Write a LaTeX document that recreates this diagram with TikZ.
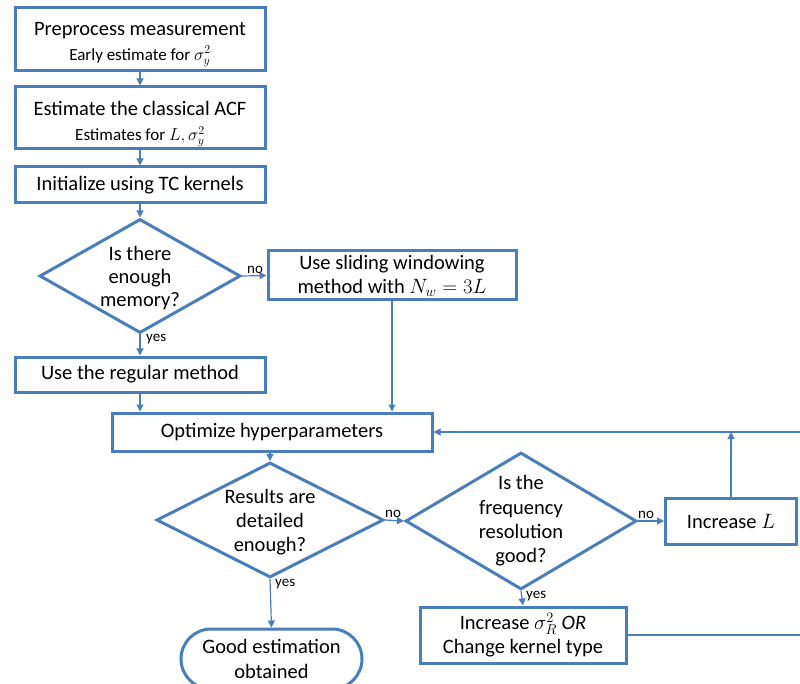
\documentclass[tikz,border=0pt]{standalone}
\usepackage{fontspec}
\setmainfont{Carlito}
\usetikzlibrary{shapes.geometric,shapes.misc,arrows.meta}
\definecolor{fcblue}{RGB}{74,126,187}
\begin{document}
\begin{tikzpicture}[x=1pt,y=-1pt,
  box/.style={draw=fcblue,line width=3pt,fill=white,inner sep=0pt,align=center,font=\fontsize{20.5}{24}\selectfont},
  dia/.style={draw=fcblue,line width=3pt,fill=white,shape=diamond,inner sep=0pt},
  txt/.style={inner sep=0pt,align=center,font=\fontsize{20.5}{24}\selectfont},
  term/.style={draw=fcblue,line width=3pt,fill=white,shape=rounded rectangle,inner sep=0pt,align=center,font=\fontsize{20.5}{25}\selectfont},
  conn/.style={draw=fcblue,line width=1.2pt,-{Triangle[length=7pt,width=7pt]}},
  line/.style={draw=fcblue,line width=1.2pt},
  lab/.style={font=\fontsize{15}{17}\selectfont,inner sep=1pt},
  subf/.style={font=\fontsize{17}{20}\selectfont}
]
\useasboundingbox (0,0) rectangle (800,684);
\fill[white] (0,0) rectangle (800,684);

\node[box,minimum width=250pt,minimum height=63pt] (b1) at (140,39) {};
\node[txt] (b1t) at (140,44.5) {Preprocess measurement\\[1pt]{\fontsize{17}{20}\selectfont Early estimate for $\sigma_y^2$}};
\node[box,minimum width=250pt,minimum height=62pt] (b2) at (140,118) {};
\node[txt] (b2t) at (140,124) {Estimate the classical ACF\\[1pt]{\fontsize{17}{20}\selectfont Estimates for $L,\sigma_y^2$}};
\node[box,minimum width=250pt,minimum height=36pt] (b3) at (140,185) {Initialize using TC kernels};

\node[dia,minimum width=201pt,minimum height=114pt] (d1) at (140,276) {};
\node[txt,font=\fontsize{20.5}{23}\selectfont] (d1t) at (140,278) {Is there\\enough\\memory?};
\node[box,minimum width=248pt,minimum height=49pt] (slide) at (392,275.5)
  {Use sliding windowing\\method with $N_w=3L$};
\node[box,minimum width=250pt,minimum height=35pt] (reg) at (140,374.5) {Use the regular method};

\node[box,minimum width=320pt,minimum height=38pt] (opt) at (272,432) {Optimize hyperparameters};

\node[dia,minimum width=227pt,minimum height=115pt] (d2) at (270,520) {};
\node[txt] (d2t) at (270,522) {Results are\\detailed\\enough?};
\node[dia,minimum width=231pt,minimum height=137pt] (d3) at (521,521) {};
\node[txt,font=\fontsize{20.5}{24.3}\selectfont] (d3t) at (521,521) {Is the\\frequency\\resolution\\good?};
\node[box,minimum width=131pt,minimum height=46pt] (incL) at (731,521) {Increase $L$};
\node[box,minimum width=206pt,minimum height=56pt] (incS) at (523,635)
  {Increase $\sigma_R^2$ \textit{OR}\\Change kernel type};
\node[term,minimum width=181pt,minimum height=60pt] (good) at (271.5,659) {Good estimation\\obtained};

\coordinate (edgeA) at (800,432);
\coordinate (edgeB) at (800,635);

\draw[conn] (b1) -- (b2);
\draw[conn] (b2) -- (b3);
\draw[conn] (b3) -- (d1.north);
\draw[conn] (d1.east) -- (slide.west);
\node[lab,anchor=south west] (no1) at ([xshift=4pt,yshift=1pt]d1.east) {no};
\draw[conn] (d1.south) -- (reg.north);
\node[lab,anchor=north west] (yes1) at ([xshift=5pt,yshift=1pt]d1.south) {yes};
\draw[conn] (reg.south) -- (reg.south |- opt.north);
\draw[conn] (slide.south) -- (slide.south |- opt.north);
\draw[conn] (opt.south -| d2.north) -- (d2.north);
\draw[conn] (d2.east) -- (d3.west);
\node[lab,anchor=south west] (no2) at ([xshift=-1pt,yshift=1pt]d2.east) {no};
\draw[conn] (d2.south) -- (good.north);
\node[lab,anchor=north west] (yes2) at ([xshift=4pt,yshift=1pt]d2.south) {yes};
\draw[conn] (d3.east) -- (incL.west);
\node[lab,anchor=south west] (no3) at ([xshift=-1pt,yshift=1pt]d3.east) {no};
\draw[conn] (d3.south) -- (incS.north);
\node[lab,anchor=north west] (yes3) at ([xshift=4pt,yshift=1pt]d3.south) {yes};
\draw[conn] (incL.north) -- (incL.north |- edgeA);
\draw[conn] (edgeA) -- (opt.east);
\draw[line] (incS.east) -- (edgeB);
\end{tikzpicture}
\end{document}
